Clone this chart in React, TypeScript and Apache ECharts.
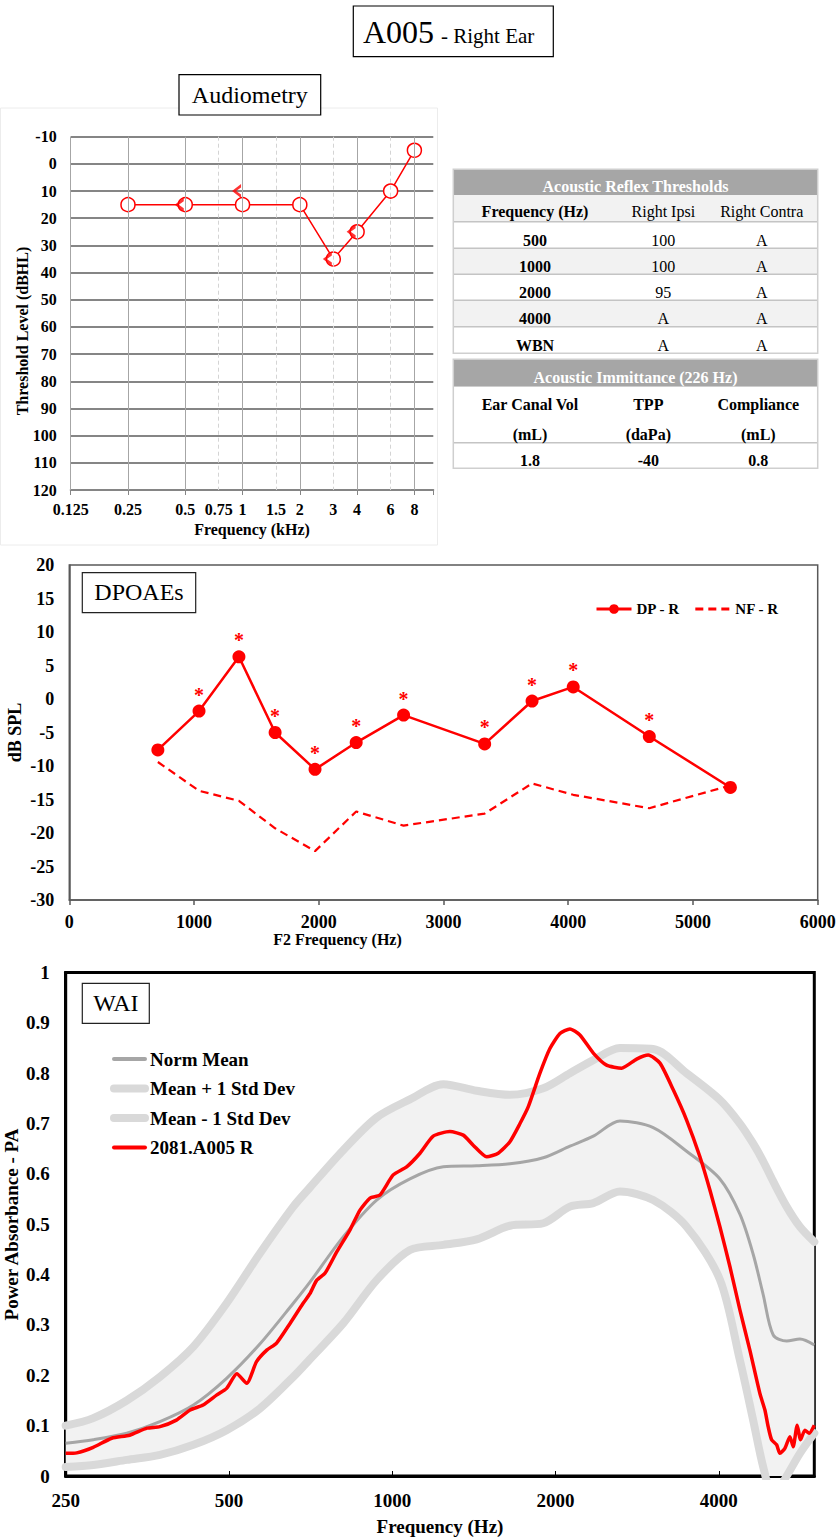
import React, { useEffect, useRef } from 'react';
import * as echarts from 'echarts';

const SERIF = '"Liberation Serif", "Times New Roman", Times, serif';

// ---------- Audiometry ----------
const audioLabelFreqs = [0.125, 0.25, 0.5, 0.75, 1, 1.5, 2, 3, 4, 6, 8];
const audioLabelTexts = ['0.125', '0.25', '0.5', '0.75', '1', '1.5', '2', '3', '4', '6', '8'];
const audioOctaveLines = [0.125, 0.25, 0.5, 1, 2, 4, 8];
const audioInterOctaveLines = [0.75, 1.5, 3, 6];
const airFreqsKHz = [0.25, 0.5, 1, 2, 3, 4, 6, 8];
const airThresholds = [15, 15, 15, 15, 35, 25, 10, -5];
const boneFreqsKHz = [0.5, 1, 3, 4];
const boneThresholds = [15, 10, 35, 25];

// ---------- Acoustic reflex / immittance tables ----------
const reflexTitle = 'Acoustic Reflex Thresholds';
const reflexColumns = ['Frequency (Hz)', 'Right Ipsi', 'Right Contra'];
const reflexFreqs = ['500', '1000', '2000', '4000', 'WBN'];
const reflexIpsi = ['100', '100', '95', 'A', 'A'];
const reflexContra = ['A', 'A', 'A', 'A', 'A'];
const immittanceTitle = 'Acoustic Immittance (226 Hz)';
const immittanceColumns = ['Ear Canal Vol', 'TPP', 'Compliance'];
const immittanceUnits = ['(mL)', '(daPa)', '(mL)'];
const immittanceValues = ['1.8', '-40', '0.8'];

// ---------- DPOAEs ----------
const dpF2 = [710, 1040, 1360, 1650, 1970, 2300, 2680, 3330, 3710, 4040, 4650, 5300];
const dpLevel = [-7.6, -1.8, 6.3, -5.0, -10.5, -6.5, -2.4, -6.7, -0.3, 1.8, -5.6, -13.2];
const nfLevel = [-9.4, -13.7, -15.2, -19.3, -22.7, -16.8, -18.9, -17.1, -12.6, -14.3, -16.3, -12.9];
const dpPresent = [false, true, true, true, true, true, true, true, true, true, true, false];

// ---------- WAI ----------
const normFreqs = [250, 281, 324, 373, 430, 495, 570, 657, 705, 812, 936, 1078, 1242, 1431, 1648, 1898, 2126, 2348, 2629, 3028, 3489, 4019, 4375, 4630, 4830, 5040, 5335, 5645, 6000];
const normMean = [0.065, 0.072, 0.085, 0.108, 0.141, 0.194, 0.262, 0.343, 0.385, 0.475, 0.548, 0.59, 0.614, 0.616, 0.62, 0.632, 0.655, 0.675, 0.705, 0.692, 0.645, 0.59, 0.52, 0.44, 0.36, 0.28, 0.268, 0.272, 0.26];
const normPlusSD = [0.1, 0.115, 0.15, 0.197, 0.257, 0.343, 0.442, 0.535, 0.573, 0.647, 0.712, 0.748, 0.778, 0.765, 0.757, 0.77, 0.8, 0.826, 0.85, 0.848, 0.8, 0.747, 0.7, 0.66, 0.625, 0.585, 0.535, 0.495, 0.465];
const normMinusSD = [0.018, 0.022, 0.032, 0.042, 0.062, 0.091, 0.134, 0.197, 0.232, 0.303, 0.389, 0.449, 0.459, 0.47, 0.497, 0.502, 0.535, 0.542, 0.565, 0.548, 0.495, 0.39, 0.23, 0.11, 0.018, -0.04, 0.0, 0.045, 0.085];
const earFreqs = [250, 262, 281, 304, 328, 353, 373, 400, 424, 448, 475, 495, 517, 539, 562, 587, 612, 648, 685, 705, 725, 752, 790, 836, 872, 910, 949, 1004, 1063, 1125, 1190, 1277, 1352, 1410, 1493, 1568, 1648, 1720, 1781, 1872, 1953, 2038, 2126, 2218, 2348, 2484, 2648, 2822, 2965, 3116, 3297, 3489, 3692, 3852, 4019, 4193, 4375, 4564, 4762, 4865, 4933, 5005, 5113, 5185, 5296, 5410, 5485, 5580, 5660, 5765, 5870, 6000];
const earPA = [0.045, 0.046, 0.057, 0.075, 0.081, 0.095, 0.098, 0.111, 0.131, 0.141, 0.161, 0.174, 0.203, 0.184, 0.227, 0.25, 0.264, 0.303, 0.343, 0.362, 0.388, 0.403, 0.445, 0.489, 0.528, 0.552, 0.558, 0.598, 0.614, 0.641, 0.675, 0.684, 0.677, 0.657, 0.634, 0.641, 0.664, 0.7, 0.733, 0.8, 0.849, 0.879, 0.888, 0.876, 0.84, 0.816, 0.81, 0.828, 0.836, 0.82, 0.767, 0.707, 0.634, 0.568, 0.495, 0.416, 0.33, 0.25, 0.164, 0.131, 0.098, 0.072, 0.062, 0.045, 0.055, 0.078, 0.058, 0.101, 0.072, 0.091, 0.085, 0.101];
const waiTickFreqs = [250, 500, 1000, 2000, 4000];

const RED = '#ff0000';
const oct125 = (k: number) => Math.log2(k / 0.125);
const oct250 = (f: number) => Math.log2(f / 250);

const txt = (text: string, x: number, y: number, size: number, o: any = {}) => ({
  type: 'text',
  x,
  y,
  rotation: o.rotation || 0,
  silent: true,
  z: 100,
  style: {
    text,
    fontSize: size,
    fontFamily: SERIF,
    fontWeight: o.bold ? 'bold' : 'normal',
    fill: o.fill || '#000',
    align: o.align || 'center',
    verticalAlign: 'middle',
  },
});

const box = (x: number, y: number, w: number, h: number, fill: string, stroke?: string, lw = 1) => ({
  type: 'rect',
  silent: true,
  z: 99,
  shape: { x, y, width: w, height: h },
  style: { fill, stroke: stroke || null, lineWidth: lw },
});

const hline = (x1: number, x2: number, y: number, color: string, w: number) => ({
  type: 'line',
  silent: true,
  z: 100,
  shape: { x1, y1: y, x2, y2: y },
  style: { stroke: color, lineWidth: w },
});

function buildTables() {
  const els: any[] = [];
  const L = 453.3;
  const R = 817.7;
  const W = R - L;
  const cols1 = [535, 663.3, 761.7];
  const cols2 = [530, 648.3, 758.3];
  const lineC = '#c4c4c4';

  // Acoustic reflex thresholds
  els.push(box(L, 169.3, W, 25.7, '#a6a6a6'));
  els.push(txt(reflexTitle, (L + R) / 2, 186.3, 16, { bold: true, fill: '#fff' }));
  const tops = [195, 221.7, 248.3, 274.3, 300.3, 326.7, 353.3];
  for (let r = 0; r < 6; r++) {
    els.push(box(L, tops[r], W, tops[r + 1] - tops[r], r % 2 === 0 ? '#f2f2f2' : '#ffffff'));
  }
  for (let r = 1; r < 6; r++) els.push(hline(L, R, tops[r], lineC, 1.5));
  reflexColumns.forEach((c, i) => els.push(txt(c, cols1[i], 211.9, 16, { bold: i === 0 })));
  reflexFreqs.forEach((f, r) => {
    const y = tops[r + 2] - 8;
    els.push(txt(f, cols1[0], y, 16, { bold: true }));
    els.push(txt(reflexIpsi[r], cols1[1], y, 16));
    els.push(txt(reflexContra[r], cols1[2], y, 16));
  });
  els.push({ ...box(L, 169.3, W, 353.3 - 169.3, 'none', '#cfcfcf', 1.5), z: 101 });

  // Acoustic immittance
  els.push(box(L, 359.3, W, 27.4, '#a6a6a6'));
  els.push(box(L, 386.7, W, 468.3 - 386.7, '#ffffff'));
  els.push(txt(immittanceTitle, (L + R) / 2, 377.3, 16, { bold: true, fill: '#fff' }));
  els.push(hline(L, R, 442.7, lineC, 1.5));
  immittanceColumns.forEach((c, i) => {
    els.push(txt(c, cols2[i], 404.6, 16, { bold: true }));
    els.push(txt(immittanceUnits[i], cols2[i], 434.6, 16, { bold: true }));
    els.push(txt(immittanceValues[i], cols2[i], 460.6, 16, { bold: true }));
  });
  els.push({ ...box(L, 359.3, W, 468.3 - 359.3, 'none', '#cfcfcf', 1.5), z: 101 });
  return els;
}

function buildOption(): any {
  const audioLabel = (v: number) => {
    const i = audioLabelFreqs.findIndex((f) => Math.abs(oct125(f) - v) < 1e-3);
    return i >= 0 ? audioLabelTexts[i] : '';
  };
  const waiPts = (vals: number[]) => normFreqs.map((f, i) => [oct250(f), vals[i]]);
  const audioMax = 6.33;
  const waiMax = oct250(6000);

  const boldLabel = (size: number, margin: number) => ({
    fontFamily: SERIF,
    fontWeight: 'bold',
    fontSize: size,
    color: '#000',
    margin,
  });

  const graphics: any[] = [
    // audiometry panel outline
    { type: 'rect', silent: true, z: 0, shape: { x: 0.5, y: 108, width: 437, height: 437 }, style: { fill: 'none', stroke: '#ececec', lineWidth: 1 } },
    // page title
    box(353.3, 6, 200, 50.7, '#fff', '#000', 1.2),
    txt('A005', 363, 32.4, 32, { align: 'left' }),
    txt('- Right Ear', 441, 36, 21, { align: 'left' }),
    // panel titles
    box(179, 74.7, 141.7, 40.3, '#fff', '#000', 1.2),
    txt('Audiometry', 249.8, 94.5, 24),
    box(82.3, 572.7, 113.4, 40, '#fff', '#222', 1.2),
    txt('DPOAEs', 139, 592.2, 24),
    box(82.3, 983.3, 67, 40, '#fff', '#222', 1.2),
    txt('WAI', 115.8, 1003, 24),
    // axis titles
    txt('Threshold Level (dBHL)', 22, 331, 16, { bold: true, rotation: Math.PI / 2 }),
    txt('Frequency (kHz)', 252, 529.5, 16, { bold: true }),
    txt('dB SPL', 14.5, 732.5, 18, { bold: true, rotation: Math.PI / 2 }),
    txt('F2 Frequency (Hz)', 337.5, 939.5, 16, { bold: true }),
    txt('Power Absorbance - PA', 11, 1224.5, 19, { bold: true, rotation: Math.PI / 2 }),
    txt('Frequency (Hz)', 440, 1526, 19, { bold: true }),
    ...buildTables(),
  ];

  const noSymbol = { opacity: 0 };

  return {
    animation: false,
    backgroundColor: '#fff',
    textStyle: { fontFamily: SERIF },
    grid: [
      { left: 70.7, top: 136.7, width: 362.6, height: 353.3 },
      { left: 69.3, top: 565, width: 748.4, height: 335, show: true, borderColor: '#595959', borderWidth: 1.5 },
      { left: 65.7, top: 972.5, width: 748.6, height: 503.5, show: true, borderColor: '#000', borderWidth: 3 },
    ],
    xAxis: [
      {
        gridIndex: 0,
        type: 'value',
        min: 0,
        max: audioMax,
        axisLine: { show: true, onZero: false, lineStyle: { color: '#858585', width: 2 } },
        axisTick: {
          show: true,
          length: 5,
          customValues: [...audioOctaveLines.map(oct125), audioMax],
          lineStyle: { color: '#858585', width: 1 },
        },
        axisLabel: { ...boldLabel(16, 11), customValues: audioLabelFreqs.map(oct125), formatter: audioLabel },
        splitLine: { show: false },
      },
      {
        gridIndex: 1,
        type: 'value',
        min: 0,
        max: 6000,
        interval: 1000,
        axisLine: { show: true, onZero: false, lineStyle: { color: '#595959', width: 1.5 } },
        axisTick: { show: true, length: 5, lineStyle: { color: '#595959', width: 1.5 } },
        axisLabel: { ...boldLabel(18, 13), formatter: (v: number) => String(v) },
        splitLine: { show: false },
      },
      {
        gridIndex: 2,
        type: 'value',
        min: 0,
        max: waiMax,
        axisLine: { show: true, onZero: false, lineStyle: { color: '#000', width: 3 } },
        axisTick: {
          show: true,
          inside: true,
          length: 5,
          customValues: waiTickFreqs.slice(1).map(oct250),
          lineStyle: { color: '#000', width: 1 },
        },
        axisLabel: {
          ...boldLabel(19, 15),
          customValues: waiTickFreqs.map(oct250),
          formatter: (v: number) => {
            const i = waiTickFreqs.findIndex((f) => Math.abs(oct250(f) - v) < 1e-3);
            return i >= 0 ? String(waiTickFreqs[i]) : '';
          },
        },
        splitLine: { show: false },
      },
    ],
    yAxis: [
      {
        gridIndex: 0,
        type: 'value',
        inverse: true,
        min: -10,
        max: 120,
        interval: 10,
        axisLine: { show: false, onZero: false },
        axisTick: { show: false },
        axisLabel: boldLabel(16, 14),
        splitLine: { show: true, lineStyle: { color: '#858585', width: 2 } },
      },
      {
        gridIndex: 1,
        type: 'value',
        min: -30,
        max: 20,
        interval: 5,
        axisLine: { show: true, onZero: false, lineStyle: { color: '#595959', width: 1.5 } },
        axisTick: { show: false },
        axisLabel: boldLabel(18, 15),
        splitLine: { show: false },
      },
      {
        gridIndex: 2,
        type: 'value',
        min: 0,
        max: 1,
        interval: 0.1,
        axisLine: { show: true, onZero: false, lineStyle: { color: '#000', width: 3 } },
        axisTick: { show: false },
        axisLabel: { ...boldLabel(19, 16), formatter: (v: number) => (v === 0 || v === 1 ? String(v) : v.toFixed(1)) },
        splitLine: { show: false },
      },
    ],
    legend: [
      {
        left: 590,
        top: 596,
        itemWidth: 35,
        itemHeight: 12,
        itemGap: 14,
        selectedMode: false,
        textStyle: { fontFamily: SERIF, fontWeight: 'bold', fontSize: 15, color: '#000', lineHeight: 16 },
        data: [
          { name: 'DP - R', lineStyle: { width: 3 } },
          { name: 'NF - R', lineStyle: { width: 3 }, itemStyle: noSymbol },
        ],
      },
      {
        orient: 'vertical',
        left: 105,
        top: 1044,
        itemWidth: 31,
        itemHeight: 10,
        itemGap: 9.5,
        selectedMode: false,
        textStyle: { fontFamily: SERIF, fontWeight: 'bold', fontSize: 19, color: '#000', lineHeight: 20 },
        data: [
          { name: 'Norm Mean', lineStyle: { width: 4, cap: 'round' }, itemStyle: noSymbol },
          { name: 'Mean + 1 Std Dev', lineStyle: { width: 8, cap: 'round' }, itemStyle: noSymbol },
          { name: 'Mean - 1 Std Dev', lineStyle: { width: 8, cap: 'round' }, itemStyle: noSymbol },
          { name: '2081.A005 R', lineStyle: { width: 4, cap: 'round' }, itemStyle: noSymbol },
        ],
      },
    ],
    graphic: { elements: graphics },
    series: [
      // audiogram frequency grid lines
      {
        type: 'line',
        name: 'audio-grid',
        xAxisIndex: 0,
        yAxisIndex: 0,
        data: [],
        symbol: 'none',
        silent: true,
        z: 1,
        markLine: {
          silent: true,
          symbol: ['none', 'none'],
          label: { show: false },
          emphasis: { disabled: true },
          data: [
            ...audioOctaveLines.map((f) => ({ xAxis: oct125(f), lineStyle: { color: '#a6a6a6', width: 1, type: 'solid' } })),
            ...audioInterOctaveLines.map((f) => ({ xAxis: oct125(f), lineStyle: { color: '#d4d4d4', width: 1, type: [4, 3] } })),
          ],
        },
      },
      {
        type: 'line',
        name: 'Air',
        xAxisIndex: 0,
        yAxisIndex: 0,
        data: airFreqsKHz.map((f, i) => [oct125(f), airThresholds[i]]),
        symbol: 'circle',
        symbolSize: 14,
        itemStyle: { color: '#fff', borderColor: RED, borderWidth: 1.5 },
        lineStyle: { color: RED, width: 1.5 },
        z: 4,
      },
      {
        type: 'scatter',
        name: 'Bone',
        xAxisIndex: 0,
        yAxisIndex: 0,
        data: boneFreqsKHz.map((f, i) => [oct125(f), boneThresholds[i]]),
        symbol: 'path://M10,0 L0,10 L10,20 L10,15 L4.5,10 L10,5 Z',
        symbolSize: [9, 14],
        symbolOffset: [-6, 0],
        itemStyle: { color: RED },
        z: 5,
      },
      // DPOAEs
      {
        type: 'line',
        name: 'DP - R',
        xAxisIndex: 1,
        yAxisIndex: 1,
        data: dpF2.map((f, i) => ({ value: [f, dpLevel[i]], label: { show: dpPresent[i] } })),
        symbol: 'circle',
        symbolSize: 13,
        itemStyle: { color: RED },
        lineStyle: { color: RED, width: 2.5 },
        label: {
          show: false,
          formatter: '*',
          position: 'top',
          distance: 0,
          color: RED,
          fontSize: 20,
          fontWeight: 'bold',
          fontFamily: SERIF,
        },
        z: 4,
      },
      {
        type: 'line',
        name: 'NF - R',
        xAxisIndex: 1,
        yAxisIndex: 1,
        data: dpF2.map((f, i) => [f, nfLevel[i]]),
        symbol: 'none',
        itemStyle: { color: RED },
        lineStyle: { color: RED, width: 2.2, type: [8, 5] },
        z: 3,
      },
      // WAI normative band fill between the +1 and -1 SD curves
      {
        type: 'custom',
        name: 'band-fill',
        xAxisIndex: 2,
        yAxisIndex: 2,
        clip: true,
        silent: true,
        data: normFreqs.map((f, i) => [oct250(f), normPlusSD[i], normMinusSD[i]]),
        encode: { x: 0, y: [1, 2] },
        renderItem: (params: any, api: any) => {
          if (params.dataIndexInside !== 0) return null;
          const top = normFreqs.map((f, i) => api.coord([oct250(f), normPlusSD[i]]));
          const bottom = normFreqs.map((f, i) => api.coord([oct250(f), normMinusSD[i]])).reverse();
          return {
            type: 'polygon',
            shape: { points: top.concat(bottom) },
            style: { fill: '#f2f2f2', stroke: null },
          };
        },
        z: 1,
      },
      {
        type: 'line',
        name: 'Mean + 1 Std Dev',
        xAxisIndex: 2,
        yAxisIndex: 2,
        data: waiPts(normPlusSD),
        symbol: 'none',
        smooth: 0.3,
        itemStyle: { color: '#d9d9d9' },
        lineStyle: { color: '#d9d9d9', width: 8, cap: 'round', join: 'round' },
        z: 2,
      },
      {
        type: 'line',
        name: 'Mean - 1 Std Dev',
        xAxisIndex: 2,
        yAxisIndex: 2,
        data: waiPts(normMinusSD),
        symbol: 'none',
        smooth: 0.3,
        itemStyle: { color: '#d9d9d9' },
        lineStyle: { color: '#d9d9d9', width: 8, cap: 'round', join: 'round' },
        z: 2,
      },
      {
        type: 'line',
        name: 'Norm Mean',
        xAxisIndex: 2,
        yAxisIndex: 2,
        data: waiPts(normMean),
        symbol: 'none',
        smooth: 0.3,
        itemStyle: { color: '#a6a6a6' },
        lineStyle: { color: '#a6a6a6', width: 3 },
        z: 3,
      },
      {
        type: 'line',
        name: '2081.A005 R',
        xAxisIndex: 2,
        yAxisIndex: 2,
        data: earFreqs.map((f, i) => [oct250(f), earPA[i]]),
        symbol: 'none',
        smooth: 0.2,
        itemStyle: { color: RED },
        lineStyle: { color: RED, width: 3.5, join: 'round' },
        z: 4,
      },
    ],
  };
}

export default function App() {
  const ref = useRef<HTMLDivElement>(null);
  useEffect(() => {
    document.body.style.margin = '0';
    const chart = echarts.init(ref.current as HTMLDivElement, undefined, { renderer: 'svg' });
    chart.setOption(buildOption());
    return () => chart.dispose();
  }, []);
  return (
    <div
      ref={ref}
      style={{ position: 'absolute', left: 0, top: 0, width: 839, height: 1537, background: '#fff' }}
    />
  );
}
